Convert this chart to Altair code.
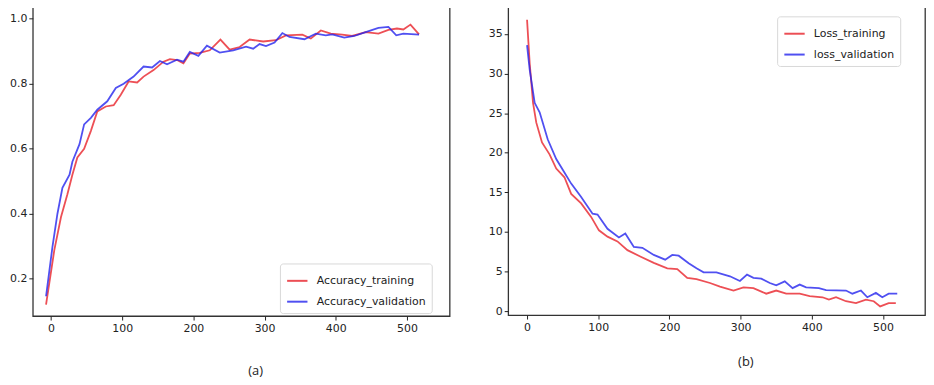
import altair as alt
import pandas as pd

# Accuracy (panel a)
acc_train_x = [-7, 4.6, 14, 23, 30, 37, 46.5, 56, 65, 77, 88, 98, 109, 121, 130, 144, 158, 167, 177, 186,
               195, 209, 223, 238, 251, 265, 279, 298, 316, 330, 353, 365, 379, 393, 409, 423, 442, 460,
               474, 486, 495, 505, 517]
acc_train_y = [0.12, 0.288, 0.39, 0.46, 0.52, 0.573, 0.60, 0.655, 0.715, 0.73, 0.734, 0.766, 0.807, 0.804,
               0.822, 0.842, 0.868, 0.876, 0.873, 0.863, 0.893, 0.895, 0.903, 0.936, 0.905, 0.913, 0.936,
               0.93, 0.934, 0.949, 0.951, 0.939, 0.964, 0.954, 0.951, 0.947, 0.959, 0.954, 0.966, 0.97,
               0.967, 0.982, 0.952]
acc_val_x = [-7, 2, 9, 16, 26, 30, 40, 46.5, 56, 65, 79, 91, 102, 116, 130, 142, 153, 163, 177, 186, 195,
             207, 219, 237, 256, 274, 284, 293, 302, 314, 325, 335, 356, 372, 386, 395, 412, 426, 442, 460,
             474, 485, 495, 517]
acc_val_y = [0.146, 0.298, 0.40, 0.48, 0.52, 0.56, 0.614, 0.675, 0.695, 0.72, 0.746, 0.787, 0.80, 0.822,
             0.853, 0.85, 0.87, 0.86, 0.874, 0.868, 0.898, 0.886, 0.917, 0.896, 0.903, 0.914, 0.908, 0.922,
             0.916, 0.927, 0.956, 0.944, 0.937, 0.954, 0.949, 0.952, 0.942, 0.947, 0.959, 0.972, 0.975,
             0.949, 0.954, 0.951]

# Loss (panel b)
loss_train_x = [0, 3.7, 8.4, 13, 21, 31.6, 41, 52.5, 62, 76, 90, 101, 113, 127, 141, 159, 178, 197, 211,
                225, 238, 257, 271, 290, 304, 318, 336, 350, 364, 383, 397, 415, 424, 434, 448, 462, 476,
                487, 496, 508, 518]
loss_train_y = [36.8, 31.3, 26.3, 23.8, 21.3, 19.8, 18.0, 16.9, 14.8, 13.6, 11.9, 10.2, 9.4, 8.8, 7.7, 6.9,
                6.1, 5.4, 5.3, 4.2, 4.05, 3.55, 3.1, 2.6, 3.0, 2.9, 2.2, 2.6, 2.2, 2.2, 1.9, 1.75, 1.45,
                1.75, 1.25, 1.0, 1.45, 1.25, 0.6, 1.0, 1.0]
loss_val_x = [0, 3.7, 10.7, 17.7, 29, 41, 52.5, 62, 76, 92, 99, 113, 129, 138, 150, 162, 178, 194, 204,
              213, 227, 238, 248, 266, 285, 299, 309, 318, 329, 341, 350, 362, 373, 383, 392, 410, 420,
              448, 457, 469, 478, 490, 499, 508, 520]
loss_val_y = [33.6, 30.5, 26.3, 25.1, 21.7, 19.2, 17.5, 16.1, 14.4, 12.3, 12.2, 10.4, 9.3, 9.8, 8.1, 8.0,
              7.1, 6.5, 7.1, 7.0, 6.05, 5.4, 4.9, 4.9, 4.4, 3.8, 4.6, 4.2, 4.1, 3.55, 3.25, 3.75, 2.9,
              3.35, 3.0, 2.9, 2.65, 2.6, 2.2, 2.6, 1.75, 2.3, 1.75, 2.2, 2.2]

acc_names = ["Accuracy_training", "Accuracy_validation"]
loss_names = ["Loss_training", "loss_validation"]
RED = "#e8232b"
BLUE = "#2424ee"


def frame(xs, ys, name):
    return pd.DataFrame({"x": xs, "y": ys, "series": name})


acc_df = pd.concat([frame(acc_train_x, acc_train_y, acc_names[0]),
                    frame(acc_val_x, acc_val_y, acc_names[1])])
loss_df = pd.concat([frame(loss_train_x, loss_train_y, loss_names[0]),
                     frame(loss_val_x, loss_val_y, loss_names[1])])

FONT = "DejaVu Sans"


def axis_x(title, tx, ty):
    return alt.Axis(values=[0, 100, 200, 300, 400, 500], grid=False, domain=False,
                    tickColor="#222", tickSize=4, labelFont=FONT, labelFontSize=11,
                    labelColor="#222", labelPadding=3, title=title, titleFont="Open Sans",
                    titleFontSize=13, titleFontWeight="normal", titleColor="#222",
                    titleX=tx, titleY=ty, titleAlign="center", titleBaseline="middle")


def axis_y(vals, fmt):
    return alt.Axis(values=vals, format=fmt, grid=False, domain=False, tickColor="#222",
                    tickSize=4, labelFont=FONT, labelFontSize=11, labelColor="#222",
                    labelPadding=2, title=None)


def legend(lx, ly):
    return alt.Legend(orient="none", legendX=lx, legendY=ly, title=None, symbolType="stroke",
                      symbolSize=420, symbolStrokeWidth=2, labelFont=FONT, labelFontSize=11,
                      labelColor="#222", strokeColor="#d8d8d8", fillColor="white", cornerRadius=3,
                      padding=6, rowPadding=4, labelOffset=8)


left = alt.Chart(acc_df).mark_line(strokeWidth=1.8, opacity=0.8).encode(
    x=alt.X("x:Q", scale=alt.Scale(domain=[-25.6, 560], nice=False, zero=False),
            axis=axis_x("(a)", 224, 55)),
    y=alt.Y("y:Q", scale=alt.Scale(domain=[0.085, 1.041], nice=False, zero=False),
            axis=axis_y([0.2, 0.4, 0.6, 0.8, 1.0], ".1f")),
    color=alt.Color("series:N", scale=alt.Scale(domain=acc_names, range=[RED, BLUE]),
                    legend=legend(249, 260)),
    detail="series:N",
).properties(width=420, height=313)

right = alt.Chart(loss_df).mark_line(strokeWidth=1.8, opacity=0.8).encode(
    x=alt.X("x:Q", scale=alt.Scale(domain=[-26.5, 559], nice=False, zero=False),
            axis=axis_x("(b)", 239, 47)),
    y=alt.Y("y:Q", scale=alt.Scale(domain=[-0.5, 38.6], nice=False, zero=False),
            axis=axis_y([0, 5, 10, 15, 20, 25, 30, 35], "d")),
    color=alt.Color("series:N", scale=alt.Scale(domain=loss_names, range=[RED, BLUE]),
                    legend=legend(271, 11)),
    detail="series:N",
).properties(width=420, height=312)

chart = alt.hconcat(left, right, spacing=37).resolve_scale(color="independent").resolve_legend(
    color="independent"
).configure(
    padding={"left": 0, "top": -5, "right": 0, "bottom": 0}, background="white"
).configure_view(stroke="#333333", strokeWidth=1.3)

chart.save("out.html", embed_options={"renderer": "svg", "actions": False})
